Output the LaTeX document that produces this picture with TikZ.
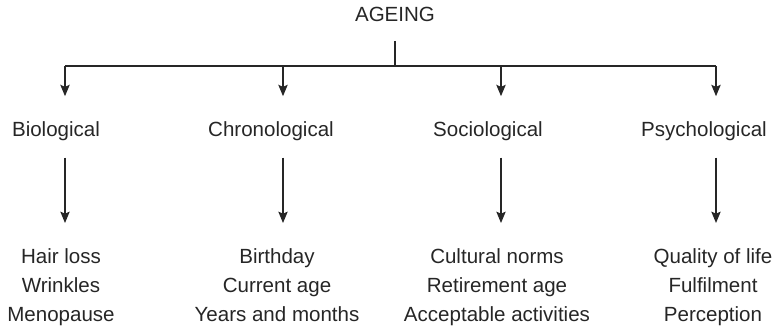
\documentclass[tikz,border=0pt]{standalone}
\usepackage{fontspec}
\setmainfont{Liberation Sans}
\usetikzlibrary{arrows.meta,positioning}

\begin{document}
\begin{tikzpicture}[x=0.75pt,y=-0.75pt,line width=0.9pt,draw=black!85,
  arr/.style={-{Stealth[length=8.5pt,width=7pt,inset=1.5pt]}}]
\tikzstyle{label}=[inner sep=3pt,font=\fontsize{15.4}{21.75}\selectfont,text=black!85]
\tikzstyle{items}=[label,align=center,anchor=north]
\useasboundingbox (0,0) rectangle (780,327);
\node [label,anchor=base] (top) at (395,22) {AGEING};
\coordinate (hub) at (395,66);
\coordinate (b1) at (65,66);
\coordinate (b2) at (283,66);
\coordinate (b3) at (501,66);
\coordinate (b4) at (716,66);
\node [label,anchor=base] (bio) at (56,137) {Biological};
\node [label,anchor=base] (chr) at (271,137) {Chronological};
\node [label,anchor=base] (soc) at (488,137) {Sociological};
\node [label,anchor=base] (psy) at (704,137) {Psychological};
\node [items] (biolist) at (61,244) {Hair loss\\Wrinkles\\Menopause};
\node [items] (chrlist) at (277,244) {Birthday\\Current age\\Years and months};
\node [items] (soclist) at (497,244) {Cultural norms\\Retirement age\\Acceptable activities};
\node [items] (psylist) at (713,244) {Quality of life\\Fulfilment\\Perception};
\draw [shorten <=10.5pt] (top.south) -- (hub);
\draw (b1) -- (b4);
\foreach \b/\h in {b1/bio,b2/chr,b3/soc,b4/psy}
  \draw [arr,shorten >=16pt] (\b) -- (\b |- \h.north);
\foreach \b/\h in {b1/bio,b2/chr,b3/soc,b4/psy}
  \draw [arr,shorten <=8.8pt,shorten >=15.75pt] (\b |- \h.south) -- (\b |- \h list.north);
\end{tikzpicture}
\end{document}
